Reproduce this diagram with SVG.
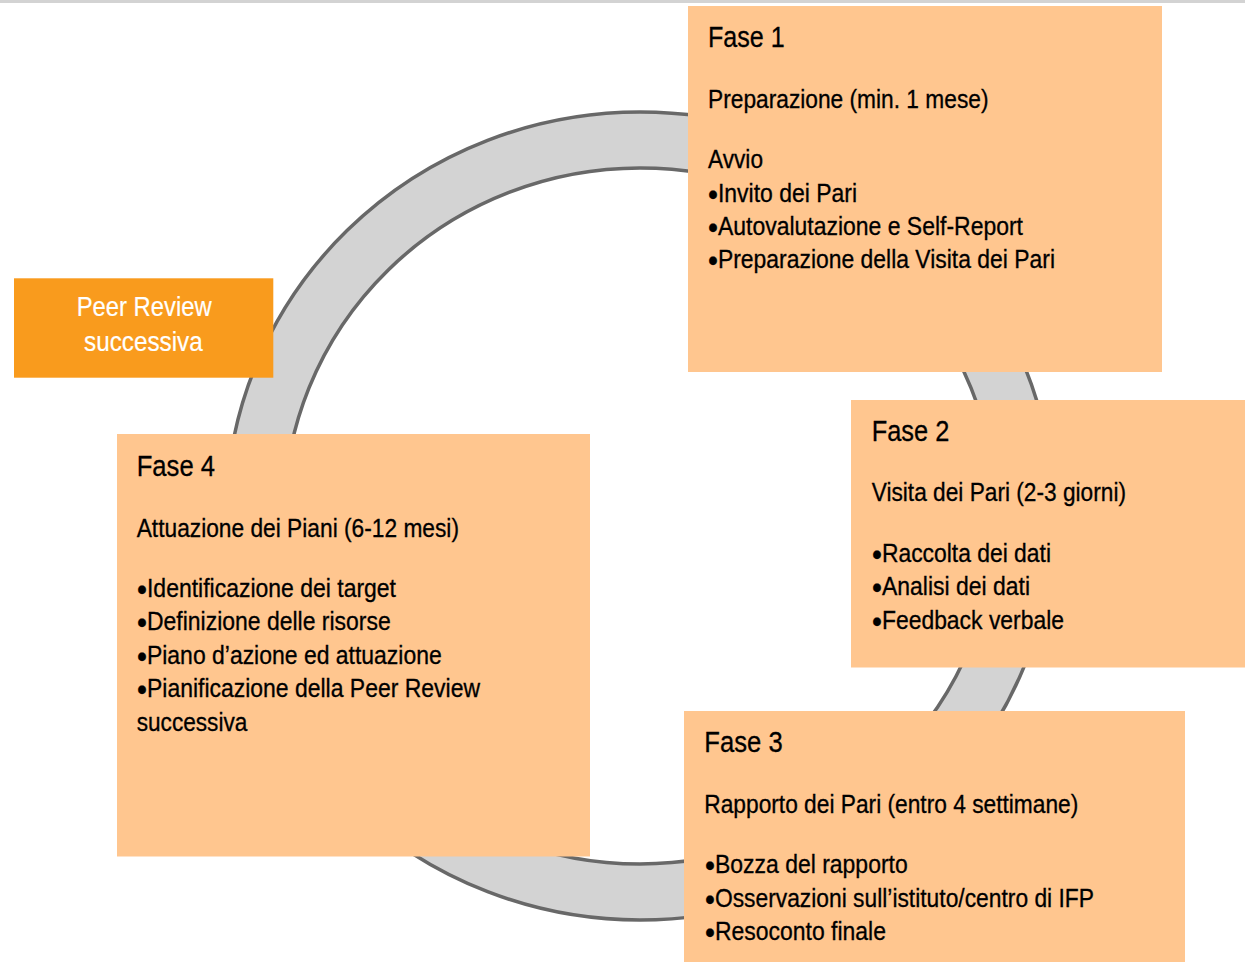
<svg xmlns="http://www.w3.org/2000/svg" width="1245" height="962" viewBox="0 0 1245 962">
<style>
.box{fill:#FFC68F;}
.accent{fill:#F99B1D;}
.t{font-family:"Liberation Sans Narrow","Liberation Sans",Arial,sans-serif;fill:#000;stroke:#000;stroke-width:0.3px;font-size:25px;}
.h{font-family:"Liberation Sans Narrow","Liberation Sans",Arial,sans-serif;fill:#000;stroke:#000;stroke-width:0.3px;font-size:30px;}
.w{font-family:"Liberation Sans Narrow","Liberation Sans",Arial,sans-serif;fill:#fff;stroke:#fff;stroke-width:0.2px;font-size:27px;text-anchor:middle;}
.b{font-size:31px;baseline-shift:-2.5px;}
.ringfill{fill:#D3D3D3;fill-rule:evenodd;stroke:none;}
.ringline{fill:none;stroke:#686868;stroke-width:3.5;}
</style>
<rect x="0" y="0" width="1245" height="962" fill="#fff"/>
<rect x="0" y="0" width="1245" height="3" fill="#D3D3D3"/>
<g id="connectors">
<path class="ringfill" d="M226,516 A414,404 0 1,0 1054,516 A414,404 0 1,0 226,516 Z M284,516 A356,348 0 1,0 996,516 A356,348 0 1,0 284,516 Z"/>
<ellipse class="ringline" cx="640" cy="516" rx="414" ry="404"/>
<ellipse class="ringline" cx="640" cy="516" rx="356" ry="348"/>
</g>
<g id="fase1">
<rect class="box" x="688" y="6" width="474" height="366"/>
<text class="h" x="708" y="46.7" textLength="76.7" lengthAdjust="spacingAndGlyphs">Fase 1</text>
<text class="t" x="708" y="108.3" textLength="280.5" lengthAdjust="spacingAndGlyphs">Preparazione (min. 1 mese)</text>
<text class="t" x="708" y="167.7" textLength="55" lengthAdjust="spacingAndGlyphs">Avvio</text>
<text class="t" x="708" y="201.5" textLength="149" lengthAdjust="spacingAndGlyphs"><tspan class="b">•</tspan>Invito dei Pari</text>
<text class="t" x="708" y="235" textLength="315" lengthAdjust="spacingAndGlyphs"><tspan class="b">•</tspan>Autovalutazione e Self-Report</text>
<text class="t" x="708" y="268.3" textLength="347" lengthAdjust="spacingAndGlyphs"><tspan class="b">•</tspan>Preparazione della Visita dei Pari</text>
</g>
<g id="fase2">
<rect class="box" x="851" y="400" width="394" height="267.5"/>
<text class="h" x="871.7" y="440.7" textLength="77.6" lengthAdjust="spacingAndGlyphs">Fase 2</text>
<text class="t" x="871.7" y="501" textLength="254.3" lengthAdjust="spacingAndGlyphs">Visita dei Pari (2-3 giorni)</text>
<text class="t" x="872" y="561.7" textLength="179" lengthAdjust="spacingAndGlyphs"><tspan class="b">•</tspan>Raccolta dei dati</text>
<text class="t" x="872" y="595" textLength="158" lengthAdjust="spacingAndGlyphs"><tspan class="b">•</tspan>Analisi dei dati</text>
<text class="t" x="872" y="629.3" textLength="192" lengthAdjust="spacingAndGlyphs"><tspan class="b">•</tspan>Feedback verbale</text>
</g>
<g id="fase3">
<rect class="box" x="684" y="711" width="501" height="251"/>
<text class="h" x="704.3" y="751.7" textLength="78.4" lengthAdjust="spacingAndGlyphs">Fase 3</text>
<text class="t" x="704.3" y="813.3" textLength="374" lengthAdjust="spacingAndGlyphs">Rapporto dei Pari (entro 4 settimane)</text>
<text class="t" x="705" y="873.3" textLength="202.7" lengthAdjust="spacingAndGlyphs"><tspan class="b">•</tspan>Bozza del rapporto</text>
<text class="t" x="705" y="906.7" textLength="389" lengthAdjust="spacingAndGlyphs"><tspan class="b">•</tspan>Osservazioni sull’istituto/centro di IFP</text>
<text class="t" x="705" y="940" textLength="181" lengthAdjust="spacingAndGlyphs"><tspan class="b">•</tspan>Resoconto finale</text>
</g>
<g id="fase4">
<rect class="box" x="117" y="434" width="473" height="422.5"/>
<text class="h" x="136.7" y="475.7" textLength="78.3" lengthAdjust="spacingAndGlyphs">Fase 4</text>
<text class="t" x="136.7" y="536.7" textLength="322.3" lengthAdjust="spacingAndGlyphs">Attuazione dei Piani (6-12 mesi)</text>
<text class="t" x="137" y="596.7" textLength="259" lengthAdjust="spacingAndGlyphs"><tspan class="b">•</tspan>Identificazione dei target</text>
<text class="t" x="137" y="630" textLength="253.7" lengthAdjust="spacingAndGlyphs"><tspan class="b">•</tspan>Definizione delle risorse</text>
<text class="t" x="137" y="664" textLength="304.7" lengthAdjust="spacingAndGlyphs"><tspan class="b">•</tspan>Piano d’azione ed attuazione</text>
<text class="t" x="137" y="697.3" textLength="343" lengthAdjust="spacingAndGlyphs"><tspan class="b">•</tspan>Pianificazione della Peer Review</text>
<text class="t" x="136.7" y="730.7" textLength="110.6" lengthAdjust="spacingAndGlyphs">successiva</text>
</g>
<g id="peer-review">
<rect class="accent" x="14" y="278.3" width="259.3" height="99.4"/>
<text class="w" x="144.2" y="315.7" textLength="135" lengthAdjust="spacingAndGlyphs">Peer Review</text>
<text class="w" x="143.4" y="350.7" textLength="118.7" lengthAdjust="spacingAndGlyphs">successiva</text>
</g>
</svg>
